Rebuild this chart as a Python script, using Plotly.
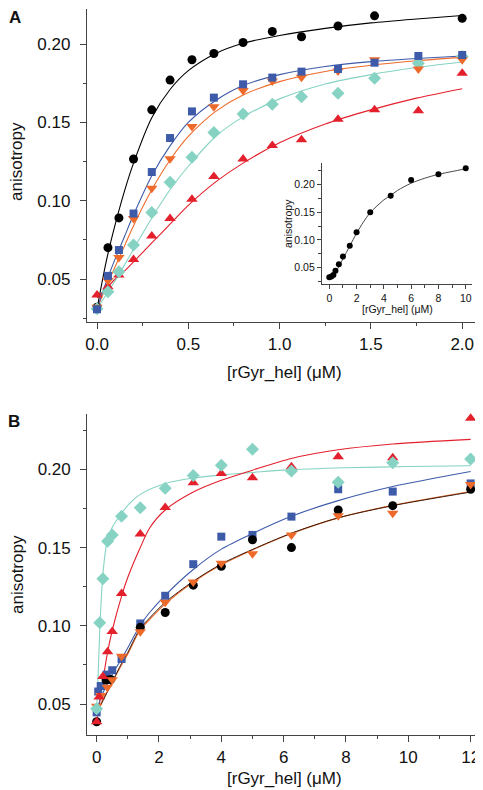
import plotly.graph_objects as go

# ---------------- Panel A data ----------------
a_conc = [0, 0.06, 0.12, 0.2, 0.3, 0.4, 0.52, 0.64, 0.8, 0.96, 1.12, 1.32, 1.52, 1.76, 2.0]
a_black = [0.032, 0.070, 0.089, 0.1266, 0.158, 0.177, 0.190, 0.194, 0.201, 0.208, 0.2047, 0.2115, 0.218, 0.2236, 0.2164]
a_blue = [0.0307, 0.052, 0.0685, 0.0918, 0.1183, 0.140, 0.157, 0.1658, 0.1743, 0.1786, 0.1824, 0.1841, 0.1881, 0.1924, 0.193]
a_orange = [0.032, 0.049, 0.0638, 0.0887, 0.108, 0.1268, 0.1473, 0.160, 0.1703, 0.1764, 0.1788, 0.1828, 0.190, 0.1841, 0.190]
a_teal = [0.031, 0.0419, 0.0547, 0.0717, 0.0925, 0.1117, 0.1278, 0.1435, 0.1554, 0.1616, 0.1664, 0.1686, 0.1781, 0.1877, 0.192]
a_red = [0.0398, 0.045, 0.0525, 0.0625, 0.0774, 0.0887, 0.101, 0.1155, 0.1266, 0.1352, 0.1389, 0.152, 0.158, 0.1575, 0.1813]

# fitted curves
a_fit_x = [0, 0.05, 0.1, 0.15, 0.2, 0.3, 0.4, 0.5, 0.65, 0.8, 1.0, 1.25, 1.5, 1.75, 2.0]
a_fit_black = [0.031, 0.061, 0.085, 0.106, 0.124, 0.153, 0.171, 0.183, 0.194, 0.2005, 0.2055, 0.210, 0.2135, 0.216, 0.2182]
a_fit_blue = [0.031, 0.048, 0.063, 0.077, 0.091, 0.116, 0.135, 0.150, 0.164, 0.1735, 0.1805, 0.1857, 0.1888, 0.1908, 0.1924]
a_fit_orange = [0.031, 0.045, 0.058, 0.071, 0.084, 0.107, 0.126, 0.141, 0.157, 0.1675, 0.176, 0.1825, 0.1865, 0.1893, 0.1915]
a_fit_teal = [0.031, 0.040, 0.049, 0.059, 0.069, 0.089, 0.107, 0.122, 0.141, 0.1535, 0.165, 0.1745, 0.1805, 0.185, 0.1885]
a_fit_red = [0.038, 0.044, 0.050, 0.055, 0.061, 0.073, 0.085, 0.097, 0.112, 0.124, 0.137, 0.149, 0.158, 0.1655, 0.1715]

# ---------------- Inset data ----------------
in_conc = [0, 0.15, 0.3, 0.45, 0.7, 1.0, 1.5, 2.0, 3.0, 4.5, 6.0, 8.0, 10.0]
in_aniso = [0.0327, 0.034, 0.037, 0.0446, 0.056, 0.070, 0.0896, 0.1137, 0.1497, 0.1795, 0.2077, 0.218, 0.2288]
in_fit_x = [0, 0.5, 1, 1.5, 2, 2.5, 3, 4, 4.5, 5, 6, 7, 8, 9, 10]
in_fit_y = [0.032, 0.044, 0.066, 0.089, 0.112, 0.132, 0.149, 0.172, 0.180, 0.189, 0.202, 0.211, 0.218, 0.223, 0.228]

# ---------------- Panel B data ----------------
b_teal_x = [0, 0.1, 0.2, 0.35, 0.5, 0.8, 1.4, 2.2, 3.1, 4.0, 5.0, 6.25, 7.75, 9.5, 12]
b_teal = [0.047, 0.102, 0.130, 0.154, 0.158, 0.170, 0.1755, 0.188, 0.196, 0.2027, 0.2128, 0.199, 0.1917, 0.2042, 0.2066]
b_red_x = [0, 0.08, 0.2, 0.35, 0.5, 0.8, 1.4, 2.2, 3.1, 4.0, 5.0, 6.25, 7.75, 9.5, 12]
b_red = [0.0387, 0.0545, 0.0676, 0.0834, 0.0964, 0.1207, 0.1587, 0.1757, 0.1914, 0.1974, 0.1946, 0.2017, 0.208, 0.2075, 0.2326]
b_blue_x = [0, 0.05, 0.13, 0.32, 0.5, 0.8, 1.4, 2.2, 3.1, 4.0, 5.0, 6.25, 7.75, 9.5, 12]
b_blue = [0.0447, 0.058, 0.0615, 0.0688, 0.0716, 0.0788, 0.1015, 0.1192, 0.1394, 0.157, 0.1581, 0.1698, 0.1873, 0.1858, 0.191]
b_orange_x = [0, 0.13, 0.34, 0.5, 0.8, 1.4, 2.2, 3.1, 4.0, 5.0, 6.25, 7.75, 9.5, 12]
b_orange = [0.0485, 0.0554, 0.0608, 0.0655, 0.0805, 0.0962, 0.115, 0.128, 0.140, 0.146, 0.1581, 0.1703, 0.172, 0.1904]
b_black_x = [0, 0.3, 0.45, 1.4, 2.2, 3.1, 4.0, 5.0, 6.25, 7.75, 9.5, 12]
b_black = [0.0387, 0.0653, 0.0657, 0.099, 0.1085, 0.126, 0.138, 0.155, 0.150, 0.174, 0.1768, 0.1873]

b_fit_teal_x = [0, 0.05, 0.1, 0.15, 0.2, 0.3, 0.4, 0.5, 0.75, 1.0, 1.4, 2.2, 3.1, 4.0, 5.0, 6.0, 8.0, 10.0, 12.0]
b_fit_teal = [0.046, 0.070, 0.097, 0.118, 0.133, 0.150, 0.158, 0.163, 0.1705, 0.177, 0.184, 0.191, 0.1945, 0.1965, 0.198, 0.1995, 0.201, 0.2018, 0.2023]
b_fit_x = [0, 0.1, 0.2, 0.35, 0.5, 0.8, 1.0, 1.4, 1.7, 2.2, 3.1, 4.0, 5.0, 6.25, 7.75, 9.5, 12]
b_fit_red = [0.039, 0.052, 0.065, 0.083, 0.097, 0.119, 0.131, 0.150, 0.1625, 0.174, 0.1855, 0.193, 0.1995, 0.207, 0.2125, 0.2162, 0.2192]
b_fit_blue = [0.045, 0.052, 0.057, 0.063, 0.069, 0.079, 0.086, 0.1005, 0.1085, 0.1195, 0.136, 0.149, 0.159, 0.170, 0.180, 0.189, 0.1986]
b_fit_orange = [0.045, 0.049, 0.053, 0.058, 0.064, 0.075, 0.082, 0.0975, 0.104, 0.114, 0.128, 0.139, 0.1485, 0.159, 0.169, 0.177, 0.1858]
b_fit_black = [0.044, 0.048, 0.052, 0.058, 0.064, 0.076, 0.083, 0.0985, 0.105, 0.115, 0.1285, 0.1395, 0.1488, 0.1592, 0.169, 0.1768, 0.1855]

BLACK = "#000000"
BLUE = "#3E5BAA"
ORANGE = "#EE6A2A"
TEAL = "#86D3C3"
RED = "#E3202C"

FONT = "Liberation Sans, Arial, sans-serif"
W, H = 475, 782   # page body has an 8px margin
OFF = 8


def px(x):
    return (x - OFF) / W


def py(y):
    return 1 - (y - OFF) / H


fig = go.Figure()


def add_line(x, y, color, xa, ya, width=1.1):
    fig.add_trace(go.Scatter(x=x, y=y, mode="lines", line=dict(color=color, width=width, shape="spline", smoothing=0.8),
                             xaxis=xa, yaxis=ya, showlegend=False, hoverinfo="skip"))


def add_pts(x, y, color, symbol, size, xa, ya):
    fig.add_trace(go.Scatter(x=x, y=y, mode="markers", cliponaxis=False,
                             marker=dict(color=color, symbol=symbol, size=size, line=dict(width=0)),
                             xaxis=xa, yaxis=ya, showlegend=False))


# Panel A
add_line(a_fit_x, a_fit_red, RED, "x", "y")
add_line(a_fit_x, a_fit_teal, TEAL, "x", "y")
add_line(a_fit_x, a_fit_orange, ORANGE, "x", "y")
add_line(a_fit_x, a_fit_blue, BLUE, "x", "y")
add_line(a_fit_x, a_fit_black, BLACK, "x", "y")
add_pts(a_conc, a_black, BLACK, "circle", 9, "x", "y")
add_pts(a_conc, a_red, RED, "triangle-up", 10, "x", "y")
add_pts(a_conc, a_teal, TEAL, "diamond", 10, "x", "y")
add_pts(a_conc, a_orange, ORANGE, "triangle-down", 10, "x", "y")
add_pts(a_conc, a_blue, BLUE, "square", 8, "x", "y")

# Inset
add_line(in_fit_x, in_fit_y, "#333333", "x3", "y3", width=0.9)
add_pts(in_conc, in_aniso, BLACK, "circle", 6, "x3", "y3")

# Panel B
add_line(b_fit_teal_x, b_fit_teal, TEAL, "x2", "y2")
add_line(b_fit_x, b_fit_red, RED, "x2", "y2")
add_line(b_fit_x, b_fit_blue, BLUE, "x2", "y2")
add_line(b_fit_x, b_fit_orange, ORANGE, "x2", "y2")
add_line(b_fit_x, b_fit_black, "#3a1a0a", "x2", "y2", width=1.0)
add_pts(b_blue_x, b_blue, BLUE, "square", 8, "x2", "y2")
add_pts(b_black_x, b_black, BLACK, "circle", 9, "x2", "y2")
add_pts(b_orange_x, b_orange, ORANGE, "triangle-down", 10, "x2", "y2")
add_pts(b_red_x, b_red, RED, "triangle-up", 10, "x2", "y2")
add_pts(b_teal_x, b_teal, TEAL, "diamond", 10, "x2", "y2")

AX = "#444444"


def axis(domain, rng, dtick, minor_dtick, fmt, size, anchor, ticklen=6, standoff=None):
    d = dict(domain=domain, range=rng, dtick=dtick, tick0=0, tickformat=fmt,
             showline=True, linecolor=AX, linewidth=1.3, ticks="outside", ticklen=ticklen,
             tickcolor=AX, tickwidth=1.3, showgrid=False, zeroline=False, anchor=anchor,
             tickfont=dict(family=FONT, size=size, color="#111111"), automargin=False,
             minor=dict(dtick=minor_dtick, tick0=0, ticks="outside", ticklen=max(3, ticklen // 2),
                        tickcolor=AX, tickwidth=1.1, showgrid=False))
    if standoff is not None:
        d["ticklabelstandoff"] = standoff
    return d


fig.update_layout(
    width=W, height=H, margin=dict(l=0, r=0, t=0, b=0),
    paper_bgcolor="white", plot_bgcolor="white",
    xaxis=axis([px(87), px(480)], [-0.0548, 2.0975], 0.5, 0.25, ".1f", 17, "y"),
    yaxis=axis([py(322), py(8.5)], [0.02256, 0.2227], 0.05, 0.025, ".2f", 17, "x", standoff=6),
    xaxis2=axis([px(87.3), px(480)], [-0.30, 12.30], 2, 1, "d", 17, "y2"),
    yaxis2=axis([py(735), py(414.3)], [0.0302, 0.2352], 0.05, 0.025, ".2f", 17, "x2", standoff=6),
    xaxis3=axis([px(322), px(472)], [-0.535, 10.46], 2, 1, "d", 10.5, "y3", ticklen=4),
    yaxis3=axis([py(284.3), py(163.3)], [0.0201, 0.2378], 0.05, 0.025, ".2f", 10.5, "x3", ticklen=4),
)

ann = []


def text(x, y, s, size, bold=False, angle=0):
    ann.append(dict(x=px(x), y=py(y), xref="paper", yref="paper", text=f"<b>{s}</b>" if bold else s,
                    showarrow=False, textangle=angle, xanchor="center", yanchor="middle",
                    font=dict(family=FONT, size=size, color="#111111")))


text(15, 18, "A", 17, bold=True)
text(14, 421, "B", 17, bold=True)
text(17, 162, "anisotropy", 17, angle=-90)
text(17, 575, "anisotropy", 17, angle=-90)
text(284, 372, "[rGyr_hel] (μM)", 17)
text(284, 778, "[rGyr_hel] (μM)", 17)
text(288, 224, "anisotropy", 10.5, angle=-90)
text(397, 309, "[rGyr_hel] (μM)", 10.5)
fig.update_layout(annotations=ann)

fig.write_html("out.html")
